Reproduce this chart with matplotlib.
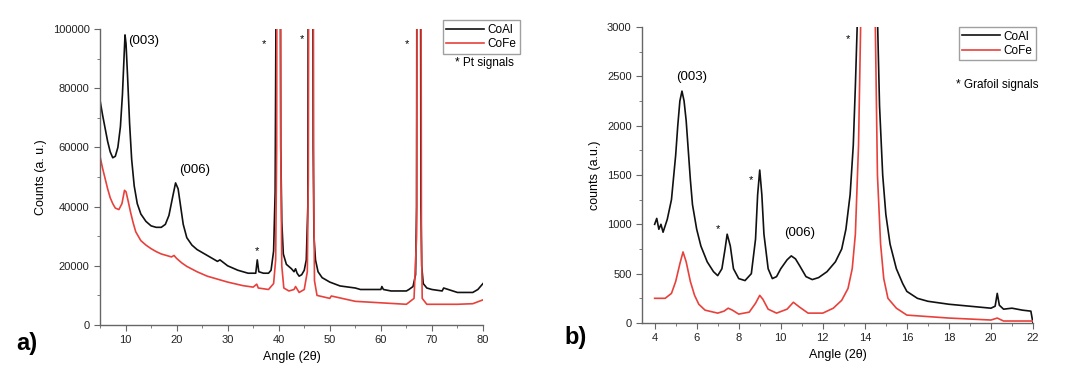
import matplotlib
matplotlib.use('Agg')
import matplotlib.pyplot as plt
from matplotlib.ticker import MultipleLocator

plt.rcParams['font.family'] = ['Liberation Sans', 'DejaVu Sans']

# panel a) -- Pt sample holder
a_coal_x = [5, 5.5, 6, 6.5, 7, 7.5, 8, 8.5, 9, 9.4, 9.7, 9.9, 10.1, 10.4, 10.8, 11.2, 11.7,
            12.3, 13, 14, 15, 16, 17, 17.8, 18.5, 19.2, 19.8, 20.3, 20.8, 21.3, 22, 23, 24,
            26, 27.5, 28, 28.5, 30, 32, 34, 35.5, 35.8, 36.1, 37, 38, 38.5, 39, 39.3, 39.45,
            39.6, 40.2, 40.4, 40.6, 40.9, 41.5, 42.5, 43, 43.3, 43.6, 44, 44.5, 45, 45.4,
            45.7, 45.85, 46.6, 46.75, 46.9, 47.2, 47.7, 48.5, 50, 52, 55, 56, 60, 60.2, 60.5,
            62, 65, 65.5, 66.3, 66.8, 67.0, 67.1, 67.7, 67.85, 68.0, 68.3, 69, 70, 72, 72.3,
            75, 78, 79, 80]
a_coal_y = [76000, 71000, 66500, 62000, 58500, 56500, 57000, 60000, 67000, 78000, 90000,
            98000, 95000, 84000, 68000, 56000, 47000, 41000, 37500, 35000, 33500, 33000,
            33000, 34000, 37000, 43000, 48000, 46000, 40000, 34000, 29500, 27000, 25500,
            23500, 22000, 21500, 22000, 20000, 18500, 17500, 17500, 22000, 18000, 17500,
            17500, 18500, 25000, 45000, 100000, 200000, 200000, 60000, 35000, 24000, 20500,
            19000, 18000, 19000, 17500, 16500, 17000, 18500, 22000, 40000, 200000, 200000,
            60000, 30000, 22000, 18000, 16000, 14500, 13200, 12500, 12000, 12000, 13000,
            12000, 11500, 11500, 12000, 13000, 17000, 40000, 200000, 200000, 40000, 20000,
            14000, 12500, 12000, 11500, 12500, 11000, 11000, 12000, 14000]
a_cofe_x = [5, 5.5, 6, 6.5, 7, 7.5, 8, 8.7, 9.3, 9.8, 10.1, 10.5, 11, 11.5, 12, 13, 14, 15,
            16, 17, 18, 19, 19.5, 20, 21, 22, 24, 26, 28, 30, 33, 35, 35.7, 36, 38, 39,
            39.4, 39.6, 39.7, 40.3, 40.4, 40.6, 41, 42, 43, 43.3, 44, 45, 45.6, 45.8, 45.95,
            46.7, 46.85, 47, 47.5, 50, 50.3, 55, 60, 65, 66.5, 67.0, 67.2, 67.8, 67.95, 68.1,
            69, 75, 78, 80]
a_cofe_y = [57000, 53000, 49500, 46000, 43000, 41000, 39500, 39000, 41000, 45500, 45000,
            42000, 38000, 34500, 31500, 28500, 27000, 25800, 24800, 24000, 23500, 23000,
            23500, 22500, 21000, 19800, 18000, 16500, 15500, 14500, 13300, 12800, 13800,
            12500, 12000, 14000, 22000, 60000, 200000, 200000, 60000, 20000, 12500, 11500,
            12000, 13000, 11000, 12000, 18000, 50000, 200000, 200000, 50000, 15000, 10000,
            9000, 9800, 8000, 7500, 7000, 9000, 30000, 200000, 200000, 30000, 9000, 7000,
            7000, 7200, 8500]

# panel b) -- Grafoil sample holder
b_coal_x = [4.0, 4.1, 4.2, 4.3, 4.4, 4.6, 4.8, 5.0, 5.1, 5.2, 5.3, 5.4, 5.5, 5.6, 5.7, 5.8,
            6.0, 6.2, 6.5, 6.8, 7.0, 7.2, 7.35, 7.45, 7.6, 7.75, 8.0, 8.3, 8.6, 8.8, 8.9, 9.0,
            9.1, 9.2, 9.4, 9.6, 9.8, 10.0, 10.3, 10.5, 10.7, 10.9, 11.2, 11.5, 11.8, 12.2,
            12.6, 12.9, 13.1, 13.3, 13.45, 13.55, 13.65, 13.8, 14.5, 14.6, 14.7, 14.85, 15.0,
            15.2, 15.5, 15.8, 16.0, 16.5, 17.0, 18.0, 19.0, 20.0, 20.2, 20.3, 20.4, 20.6,
            21.0, 21.5, 21.9, 22.0]
b_coal_y = [1000, 1060, 950, 1000, 920, 1050, 1250, 1700, 2000, 2250, 2350, 2250, 2050,
            1750, 1450, 1200, 950, 780, 620, 520, 480, 550, 750, 900, 780, 550, 450, 430,
            500, 850, 1300, 1550, 1300, 900, 550, 450, 470, 550, 640, 680, 650, 580, 470,
            440, 460, 520, 620, 750, 950, 1300, 1800, 2400, 3100, 5000, 5000, 3100, 2200,
            1500, 1100, 800, 550, 400, 320, 250, 220, 190, 170, 150, 170, 300, 180, 140, 150,
            130, 120, 0]
b_cofe_x = [4.0, 4.5, 4.8, 5.0, 5.2, 5.35, 5.5, 5.7, 5.9, 6.1, 6.4, 7.0, 7.3, 7.5, 7.7, 8.0,
            8.5, 8.8, 9.0, 9.15, 9.4, 9.8, 10.3, 10.6, 10.9, 11.3, 12.0, 12.5, 12.9, 13.2,
            13.4, 13.55, 13.7, 13.8, 13.9, 14.4, 14.5, 14.6, 14.75, 14.9, 15.1, 15.5, 16.0,
            18.0, 20.0, 20.3, 20.6, 22.0]
b_cofe_y = [250, 250, 300, 420, 600, 720, 620, 420, 280, 190, 130, 100, 120, 150, 130, 90,
            110, 200, 280, 240, 140, 100, 140, 210, 160, 100, 100, 150, 230, 350, 550, 900,
            1800, 3000, 5000, 5000, 3000, 1500, 800, 450, 250, 150, 80, 50, 30, 50, 20, 20]

fig = plt.figure(figsize=(10.74, 3.75), dpi=100)
ax1 = fig.add_axes([0.0931, 0.1333, 0.3566, 0.7894])
ax2 = fig.add_axes([0.5978, 0.1387, 0.3640, 0.7893])

black = '#111111'
red = '#e8413c'
spine_c = '#666666'

for ax in (ax1, ax2):
    for s in ('top', 'right'):
        ax.spines[s].set_visible(False)
    for s in ('left', 'bottom'):
        ax.spines[s].set_color(spine_c)
        ax.spines[s].set_linewidth(1.0)
    ax.tick_params(which='both', direction='out', color=spine_c, labelsize=8,
                   labelcolor='#222222')
    ax.tick_params(which='major', length=4)
    ax.tick_params(which='minor', length=2.5)

# a)
ax1.plot(a_coal_x, a_coal_y, color=black, lw=1.2, label='CoAl')
ax1.plot(a_cofe_x, a_cofe_y, color=red, lw=1.2, label='CoFe')
ax1.set_xlim(5, 80)
ax1.set_ylim(0, 100000)
ax1.xaxis.set_major_locator(MultipleLocator(10))
ax1.xaxis.set_minor_locator(MultipleLocator(5))
ax1.yaxis.set_major_locator(MultipleLocator(20000))
ax1.yaxis.set_minor_locator(MultipleLocator(10000))
ax1.set_xlabel('Angle (2\u03b8)', fontsize=9)
ax1.set_ylabel('Counts (a. u.)', fontsize=9)
ax1.text(10.5, 96000, '(003)', fontsize=9.5, ha='left', va='center')
ax1.text(23.5, 52500, '(006)', fontsize=9.5, ha='center', va='center')
for sx, sy in [(37.1, 95000), (44.5, 96500), (65.1, 95000), (35.8, 25000)]:
    ax1.text(sx, sy, '*', fontsize=8, ha='center', va='center')
leg1 = ax1.legend(loc='upper left', bbox_to_anchor=(0.895, 1.03), fontsize=8.5,
                  frameon=True, fancybox=False, handlelength=3.2, handletextpad=0.3,
                  borderpad=0.3, labelspacing=0.2, borderaxespad=0)
leg1.get_frame().set_edgecolor('#888888')
leg1.get_frame().set_linewidth(1.0)
fig.text(0.424, 0.833, '* Pt signals', fontsize=8.5, ha='left', va='center')
fig.text(0.015, 0.085, 'a)', fontsize=17, fontweight='bold', ha='left', va='center')

# b)
ax2.plot(b_coal_x, b_coal_y, color=black, lw=1.2, label='CoAl')
ax2.plot(b_cofe_x, b_cofe_y, color=red, lw=1.2, label='CoFe')
ax2.set_xlim(3.4, 22)
ax2.set_ylim(0, 3000)
ax2.xaxis.set_major_locator(MultipleLocator(2))
ax2.xaxis.set_minor_locator(MultipleLocator(1))
ax2.yaxis.set_major_locator(MultipleLocator(500))
ax2.yaxis.set_minor_locator(MultipleLocator(250))
ax2.set_xlabel('Angle (2\u03b8)', fontsize=9)
ax2.set_ylabel('counts (a.u.)', fontsize=9)
ax2.text(5.75, 2490, '(003)', fontsize=9.5, ha='center', va='center')
ax2.text(10.9, 910, '(006)', fontsize=9.5, ha='center', va='center')
for sx, sy in [(7.0, 950), (8.6, 1450), (13.2, 2880)]:
    ax2.text(sx, sy, '*', fontsize=8, ha='center', va='center')
leg2 = ax2.legend(loc='upper left', bbox_to_anchor=(0.81, 1.0), fontsize=8.5,
                  frameon=True, fancybox=False, handlelength=3.2, handletextpad=0.3,
                  borderpad=0.3, labelspacing=0.2, borderaxespad=0)
leg2.get_frame().set_edgecolor('#888888')
leg2.get_frame().set_linewidth(1.0)
fig.text(0.89, 0.773, '* Grafoil signals', fontsize=8.5, ha='left', va='center')
fig.text(0.526, 0.10, 'b)', fontsize=17, fontweight='bold', ha='left', va='center')

fig.savefig('out.png', dpi=100)
